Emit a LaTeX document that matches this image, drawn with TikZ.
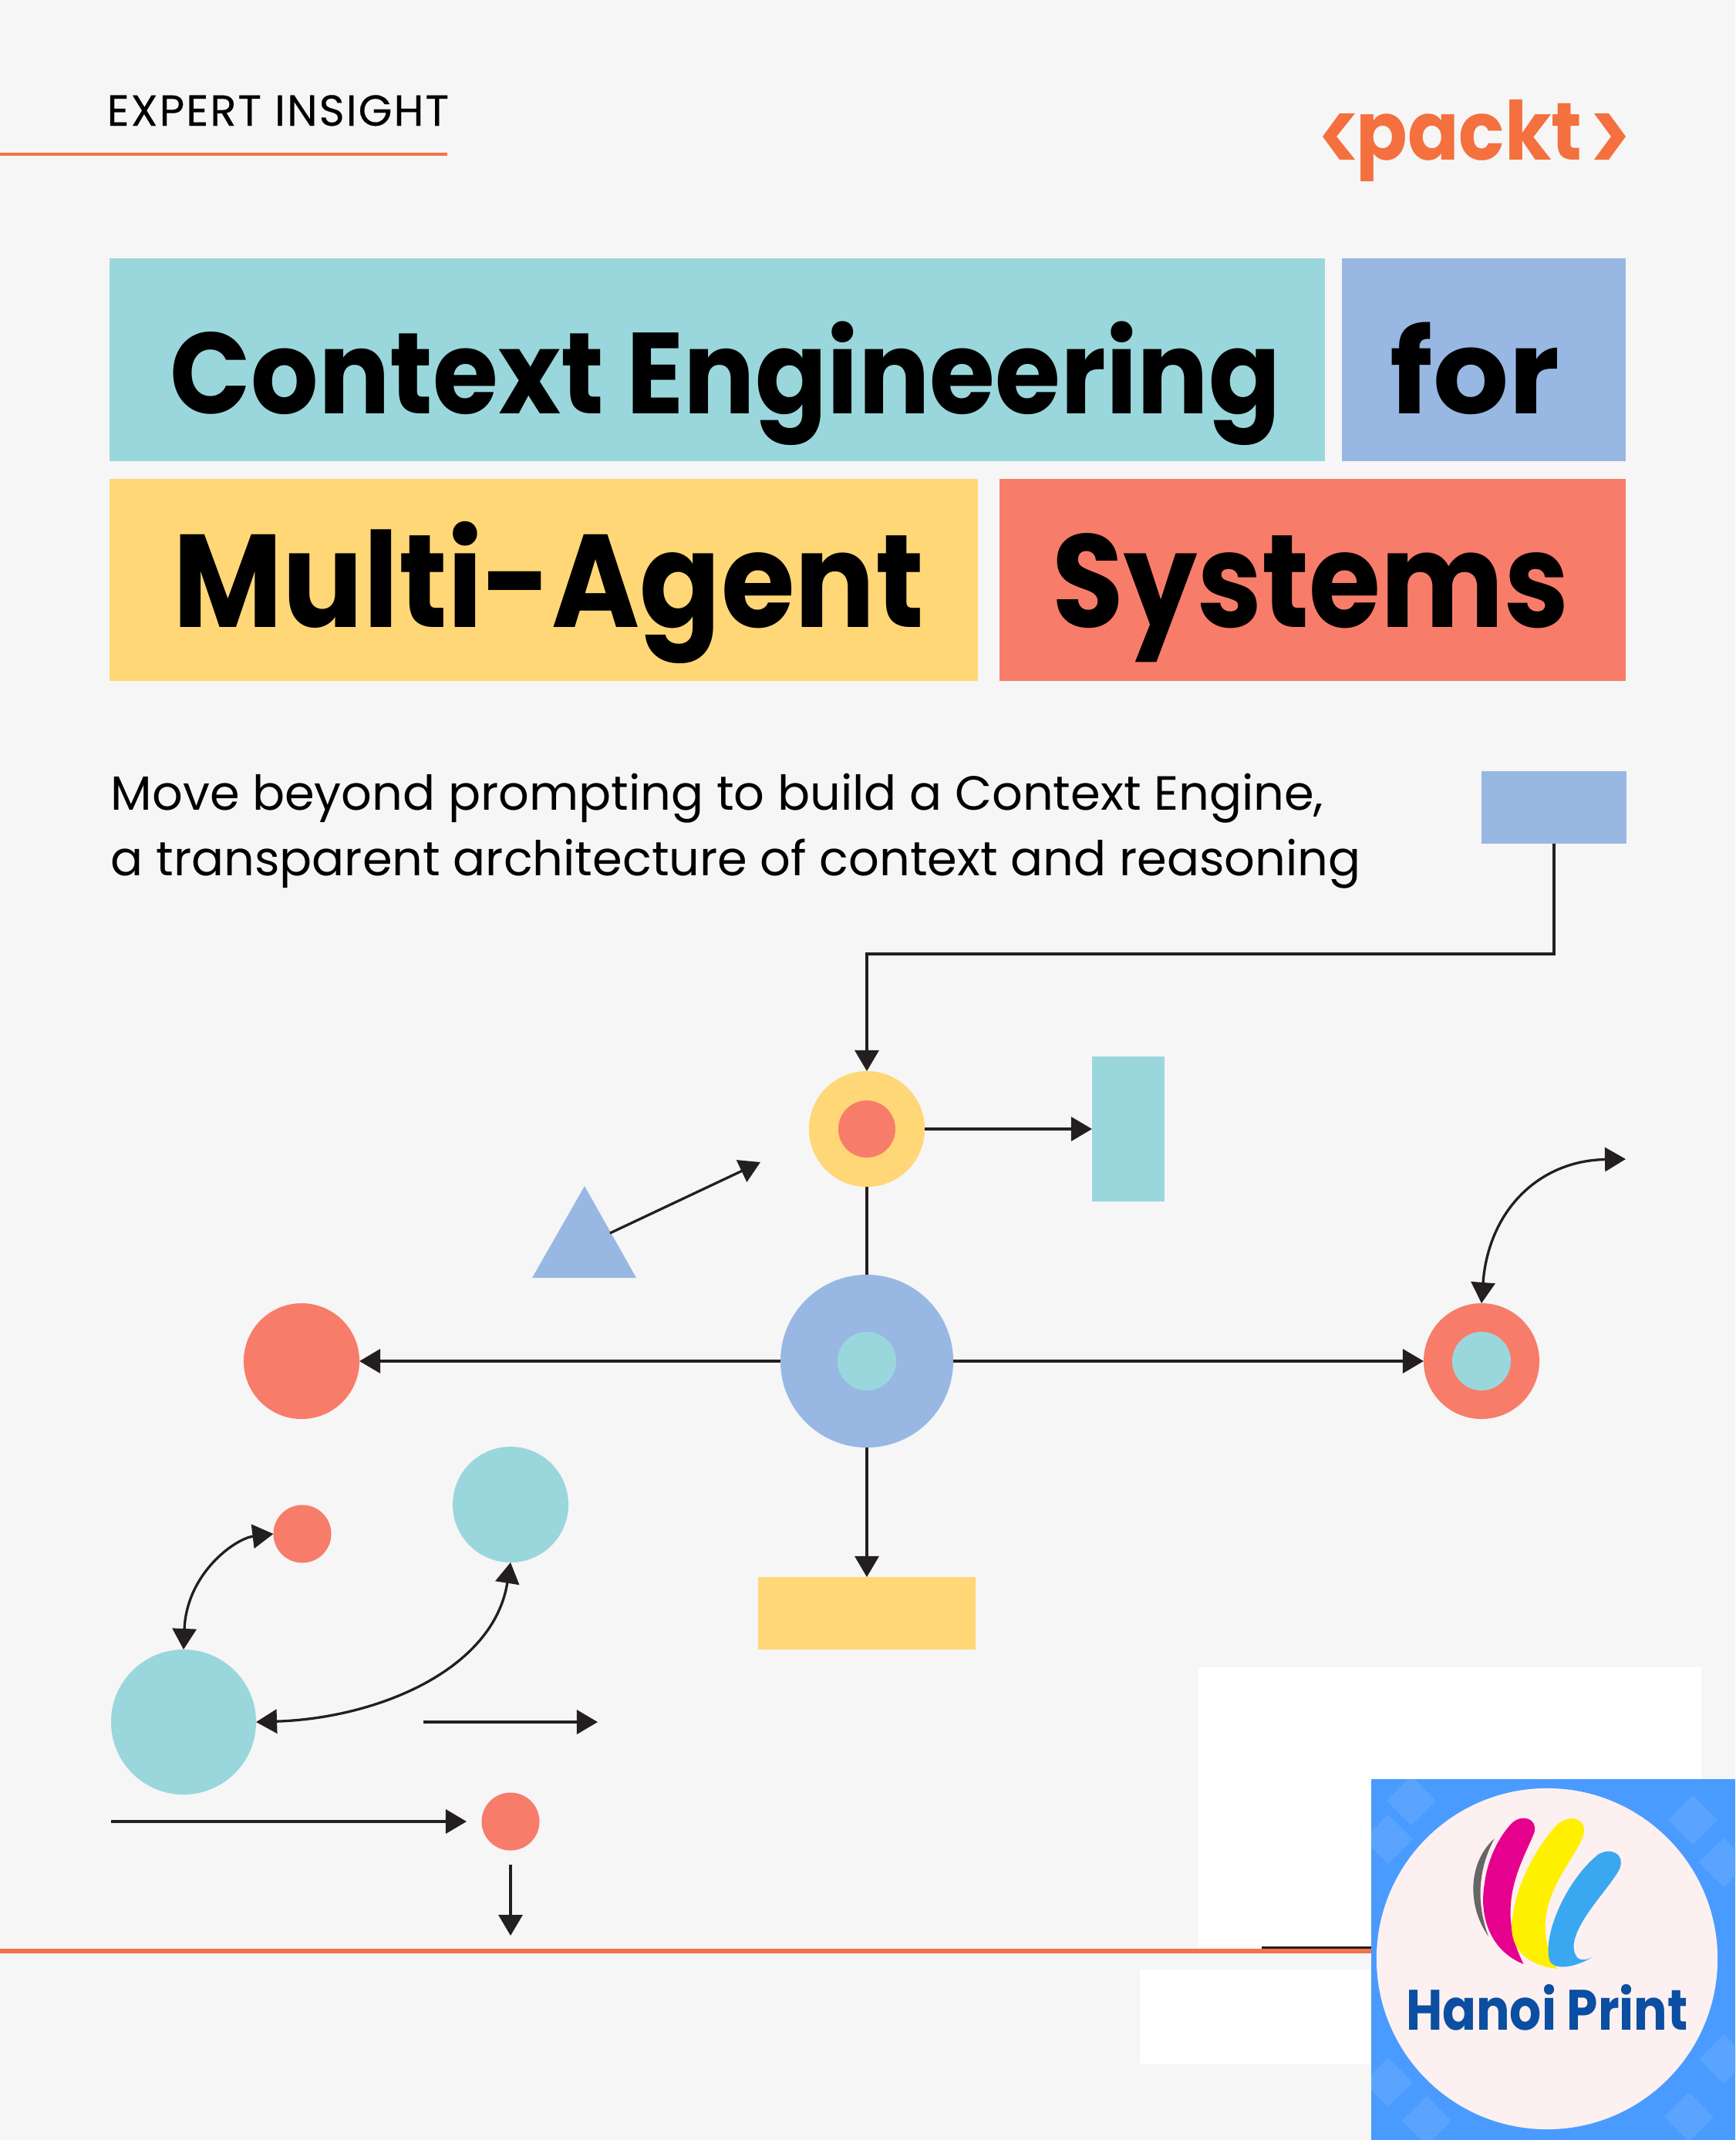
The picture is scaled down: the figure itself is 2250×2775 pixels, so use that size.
\documentclass[tikz,border=0pt]{standalone}
\usepackage{fontspec}
\setmainfont{Poppins}
\newfontfamily\titlecontext{Poppins}[FakeStretch=0.92]
\newfontfamily\titlefor{Poppins}[FakeStretch=1.02]
\newfontfamily\titlemulti{Poppins}[FakeStretch=0.905]
\newfontfamily\titlesystems{Poppins}[FakeStretch=0.88]
\newfontfamily\printfont{Poppins}[FakeStretch=0.875]
\newfontfamily\packtfont{Poppins}[FakeStretch=0.93]
\newfontfamily\expertfont{Poppins}[LetterSpace=3.7, FakeBold=0.3]
\usetikzlibrary{arrows.meta}

\definecolor{paper}{HTML}{F6F6F6}
\definecolor{tealbox}{HTML}{9AD7DC}
\definecolor{bluebox}{HTML}{98B8E3}
\definecolor{yellowbox}{HTML}{FFD777}
\definecolor{redbox}{HTML}{F87C6A}
\definecolor{rule}{HTML}{F5734A}
\definecolor{logoorange}{HTML}{F4703E}
\definecolor{ink}{HTML}{231F20}
\definecolor{badge}{HTML}{4A9BFF}
\definecolor{badgelight}{HTML}{5AA4FF}
\definecolor{badgedisc}{HTML}{FDF0F0}
\definecolor{printblue}{HTML}{0B4EA2}
\definecolor{inkgray}{HTML}{666666}
\definecolor{inkmagenta}{HTML}{E6008E}
\definecolor{inkyellow}{HTML}{FFF000}
\definecolor{inkcyan}{HTML}{3AA8F0}

\tikzset{
  box/.style={rectangle, inner sep=0, outer sep=0},
  disc/.style={circle, inner sep=0, outer sep=0},
  titletext/.style={anchor=base west, inner sep=0},
  subtext/.style={anchor=base west, inner sep=0, font=\fontsize{17.7}{17.7}\selectfont},
  link/.style={color=ink, line width=0.33mm},
  oneway/.style={link, -{Triangle[length=2.7mm,width=3.1mm]}},
  bothways/.style={link, {Triangle[length=2.7mm,width=3.1mm]}-{Triangle[length=2.7mm,width=3.1mm]}}
}

\begin{document}
\begin{tikzpicture}[x=0.01cm, y=-0.01cm]
    \fill[paper] (0,0) rectangle (2250,2775);

    % header
    \node[anchor=base west, inner sep=0, font=\fontsize{16}{16}\expertfont] (expert) at (138,163) {EXPERT INSIGHT};
    \fill[rule] (0,198) rectangle (580,202);

    \fill[logoorange] (1757,147) -- (1737,147) -- (1715,177) -- (1737,207) -- (1757,207) -- (1733,177) -- cycle;
    \fill[logoorange] (2067,147) -- (2086,147) -- (2108,177) -- (2086,207) -- (2067,207) -- (2089,177) -- cycle;
    \node[anchor=base west, inner sep=0, text=logoorange, font=\fontsize{30}{30}\packtfont\bfseries] (packt) at (1758,207) {packt};

    % title
    \node[box, fill=tealbox, minimum width=157.5mm, minimum height=26.3mm, anchor=north west] (boxcontext) at (142,335) {};
    \node[box, fill=bluebox, minimum width=36.8mm, minimum height=26.3mm, anchor=north west] (boxfor) at (1740,335) {};
    \node[box, fill=yellowbox, minimum width=112.5mm, minimum height=26.2mm, anchor=north west] (boxmulti) at (142,621) {};
    \node[box, fill=redbox, minimum width=81.2mm, minimum height=26.2mm, anchor=north west] (boxsystems) at (1296,621) {};
    \node[titletext, font=\fontsize{42.5}{42.5}\titlecontext\bfseries] (context) at (220,536) {Context Engineering};
    \node[titletext, font=\fontsize{43}{43}\titlefor\bfseries] (for) at (1802,536) {for};
    \node[titletext, font=\fontsize{48.7}{48.7}\titlemulti\bfseries] (multi) at (224,813) {Multi-Agent};
    \node[titletext, font=\fontsize{48.7}{48.7}\titlesystems\bfseries] (systems) at (1364,813) {Systems};

    \node[subtext] (subone) at (143,1050) {Move beyond prompting to build a Context Engine,};
    \node[subtext] (subtwo) at (143,1135) {a transparent architecture of context and reasoning};

    % main shapes
    \node[box, fill=bluebox, minimum width=18.7mm, minimum height=9.4mm] (bluerect) at (2015,1047) {};
    \node[disc, fill=yellowbox, minimum size=15mm] (yellowring) at (1124,1464) {};
    \node[disc, fill=redbox, minimum size=7.4mm] (yellowcore) at (1124,1464) {};
    \node[box, fill=tealbox, minimum width=9.4mm, minimum height=18.8mm] (tealrect) at (1463,1464) {};
    \node[disc, fill=bluebox, minimum size=22.4mm] (hub) at (1124,1765) {};
    \node[disc, fill=tealbox, minimum size=7.6mm] (hubcore) at (1124,1765) {};
    \node[disc, fill=redbox, minimum size=15mm] (redleft) at (391,1765) {};
    \node[disc, fill=redbox, minimum size=15mm] (redring) at (1921,1765) {};
    \node[disc, fill=tealbox, minimum size=7.6mm] (redcore) at (1921,1765) {};
    \node[box, fill=yellowbox, minimum width=28.2mm, minimum height=9.4mm] (yellowrect) at (1124,2092) {};
    \fill[bluebox] (758,1538) -- (825,1657) -- (690,1657) -- cycle;

    \coordinate (elbow) at (1124,1237);
    \coordinate (triout) at (791,1599);
    \coordinate (triend) at (986,1507);
    \coordinate (swingend) at (2108,1503);

    \draw[oneway] (bluerect.south) |- (elbow) -- (yellowring.north);
    \draw[oneway] (yellowring.east) -- (tealrect.west);
    \draw[oneway] (triout) -- (triend);
    \draw[link] (yellowring.south) -- (hub.north);
    \draw[oneway] (hub.west) -- (redleft.east);
    \draw[oneway] (hub.east) -- (redring.west);
    \draw[oneway] (hub.south) -- (yellowrect.north);
    \draw[bothways] (swingend) .. controls (1995,1505) and (1930,1570) .. (redring.north);

    % lower left
    \node[disc, fill=redbox, minimum size=7.5mm] (redsmall) at (392,1989) {};
    \node[disc, fill=tealbox, minimum size=15mm] (tealmid) at (662,1951) {};
    \node[disc, fill=tealbox, minimum size=18.8mm] (tealbig) at (238,2233) {};
    \node[disc, fill=redbox, minimum size=7.5mm] (redlow) at (662,2362) {};

    \coordinate (freestart) at (549,2233);
    \coordinate (freeend) at (775,2233);
    \coordinate (lowstart) at (144,2362);
    \coordinate (lowend) at (605,2362);
    \coordinate (dropstart) at (662,2418);
    \coordinate (dropend) at (662,2510);

    \draw[bothways] (tealbig.north) .. controls (242,2040) and (305,1995) .. (redsmall.west);
    \draw[bothways] (tealbig.east) .. controls (490,2228) and (640,2165) .. (tealmid.south);
    \draw[oneway] (freestart) -- (freeend);
    \draw[oneway] (lowstart) -- (lowend);
    \draw[oneway] (dropstart) -- (dropend);

    % patches and bottom rule
    \fill[white] (1554,2162) rectangle (2206,2524);
    \fill[white] (1478,2554) rectangle (1800,2676);
    \fill[ink] (1636,2524) rectangle (1790,2527);
    \fill[rule] (0,2527) rectangle (1790,2533);

    % badge
    \fill[badge] (1778,2307) rectangle (2250,2775);
    \begin{scope}
      \clip (1778,2307) rectangle (2250,2775);
      \foreach \bx/\by in {1830/2335, 2195/2360, 1800/2385, 1800/2700, 1850/2750, 2190/2745, 2235/2670, 2235/2415}
        \fill[badgelight] (\bx,\by) ++(-32,0) -- ++(32,-32) -- ++(32,32) -- ++(-32,32) -- cycle;
    \end{scope}
    \node[disc, fill=badgedisc, minimum size=44.2mm] (badgedisc) at (2006,2540) {};

    \begin{scope}[shift={(1400,2100)}, xscale=0.542, yscale=0.4305]
      \fill[inkgray] (992,660) .. controls (930,730) and (925,860) .. (978,955) .. controls (950,860) and (950,760) .. (992,660) -- cycle;
      \fill[inkmagenta] (1035,612) .. controls (1060,585) and (1095,600) .. (1088,640) .. controls (1060,730) and (990,860) .. (1062,1038) .. controls (985,1000) and (955,900) .. (968,800) .. controls (975,720) and (1005,650) .. (1035,612) -- cycle;
      \fill[inkyellow] (1145,615) .. controls (1175,585) and (1215,600) .. (1205,650) .. controls (1180,740) and (1060,870) .. (1142,1052) .. controls (1060,1040) and (1025,980) .. (1035,900) .. controls (1045,790) and (1100,670) .. (1145,615) -- cycle;
      \fill[inkcyan] (1240,708) .. controls (1270,685) and (1305,705) .. (1292,750) .. controls (1270,810) and (1150,950) .. (1190,1018) .. controls (1200,1030) and (1215,1025) .. (1228,1016) .. controls (1190,1045) and (1140,1060) .. (1125,1030) .. controls (1105,960) and (1160,790) .. (1240,708) -- cycle;
    \end{scope}
    \node[anchor=base, inner sep=0, text=printblue, font=\fontsize{21}{21}\printfont\bfseries] (hanoi) at (2006,2632) {Hanoi Print};
\end{tikzpicture}
\end{document}
